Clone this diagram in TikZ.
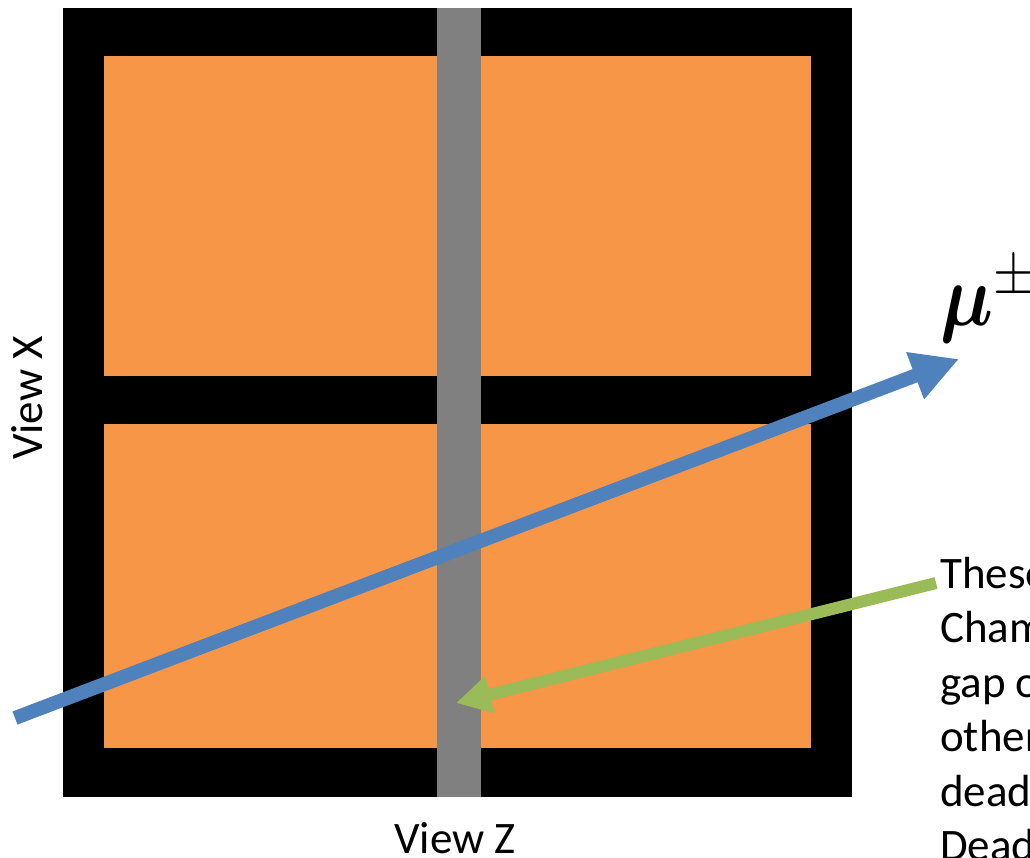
\RequirePackage{fix-cm}
\documentclass[tikz,border=0pt]{standalone}
\usepackage{amsmath,bm}
\usepackage{fontspec}
\setmainfont{Carlito}
\usetikzlibrary{arrows.meta}
\definecolor{fillorange}{HTML}{F79646}
\definecolor{trackblue}{HTML}{4F81BD}
\definecolor{pointgreen}{HTML}{9BBB59}
\definecolor{bargray}{HTML}{808080}
\tikzset{
  panel/.style={fill=fillorange, draw=none},
  label/.style={font=\fontsize{45}{54.5}\selectfont, inner sep=0pt},
  track/.style={draw=trackblue, line width=14pt, -{Triangle[length=47pt,width=47pt]}},
  pointer/.style={draw=pointgreen, line width=12pt, -{Triangle[length=35pt,width=36pt]}},
}
\begin{document}
\begin{tikzpicture}[x=1pt,y=-1pt]
\useasboundingbox (0,0) rectangle (1030,857);
\clip (0,0) rectangle (1030,857);
% frame
\fill[black] (63,8) rectangle (852,797);
\fill[panel] (104,56) rectangle (437,376);
\fill[panel] (481,56) rectangle (811,376);
\fill[panel] (104,424) rectangle (437,748);
\fill[panel] (481,424) rectangle (811,748);
\fill[bargray] (437,8) rectangle (481,797);
% labels
\node[label, rotate=90, anchor=base] (vx) at (42,398) {View X};
\node[label, anchor=base] (vz) at (455,853) {View Z};
\node[inner sep=0pt, anchor=base west, xscale=0.85] (mu) at (940,325) {\fontsize{88}{96}\selectfont$\bm{\mu}^{\pm}$};
\node[label, align=left, anchor=base west] (note) at (940,860.5) {These\\Chambers\\gap on\\other\\dead\\Dead};
% arrows
\coordinate (tstart) at (15,718);
\coordinate (tend) at (959,359);
\draw[track] (tstart) -- (tend);
\coordinate (gstart) at (936,583);
\coordinate (gend) at (456,703);
\draw[pointer] (gstart) -- (gend);
\end{tikzpicture}
\end{document}
